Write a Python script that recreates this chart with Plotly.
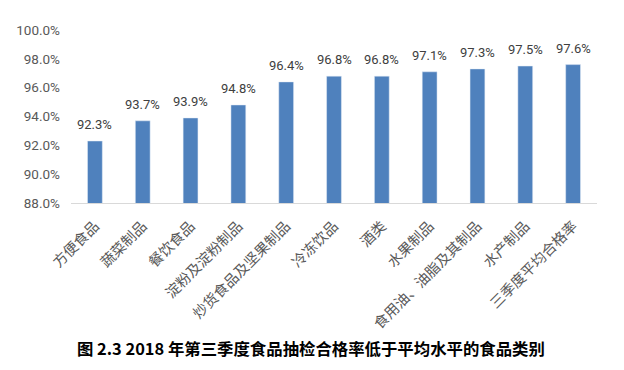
import plotly.graph_objects as go

categories = ["方便食品", "蔬菜制品", "餐饮食品", "淀粉及淀粉制品", "炒货食品及坚果制品",
              "冷冻饮品", "酒类", "水果制品", "食用油、油脂及其制品", "水产制品", "三季度平均合格率"]
values = [92.3, 93.7, 93.9, 94.8, 96.4, 96.8, 96.8, 97.1, 97.3, 97.5, 97.6]
labels = [f"{v:.1f}%" for v in values]
y_ticks = [88, 90, 92, 94, 96, 98, 100]

fig = go.Figure(go.Bar(
    x=categories, y=values,
    marker_color="#4f81bd",
))

value_notes = [dict(
    x=c, y=v, xref="x", yref="y", text=t, showarrow=False,
    yanchor="bottom", yshift=7,
    font=dict(family="Roboto", size=13, color="#404040"),
) for c, v, t in zip(categories, values, labels)]

fig.update_layout(
    width=616, height=362,
    margin=dict(l=63, r=27, t=22, b=167),
    plot_bgcolor="white", paper_bgcolor="white",
    showlegend=False, bargap=0.69,
    annotations=value_notes + [dict(
        text="图 2.3 2018 年第三季度食品抽检合格率低于平均水平的食品类别",
        x=(310.5 - 71) / 526, xref="paper", y=-(348 - 203) / 173, yref="paper",
        xanchor="center", yanchor="middle", showarrow=False,
        font=dict(family="Noto Sans CJK SC", size=16.4, color="#000000", weight="bold"),
    )],
)
fig.update_xaxes(
    tickangle=-45, showline=True, linecolor="#d9d9d9", linewidth=1,
    ticks="", automargin=False, ticklabelstandoff=8,
    tickfont=dict(family="Noto Sans CJK SC", size=14.5, color="#595959"),
)
fig.update_yaxes(
    range=[88, 100], tickvals=y_ticks,
    ticktext=[f"{t:.1f}%" for t in y_ticks],
    showgrid=False, zeroline=False, showline=False, ticks="", automargin=False,
    ticklabelstandoff=10,
    tickfont=dict(family="Roboto", size=13.5, color="#595959"),
)
fig.write_html("out.html")
